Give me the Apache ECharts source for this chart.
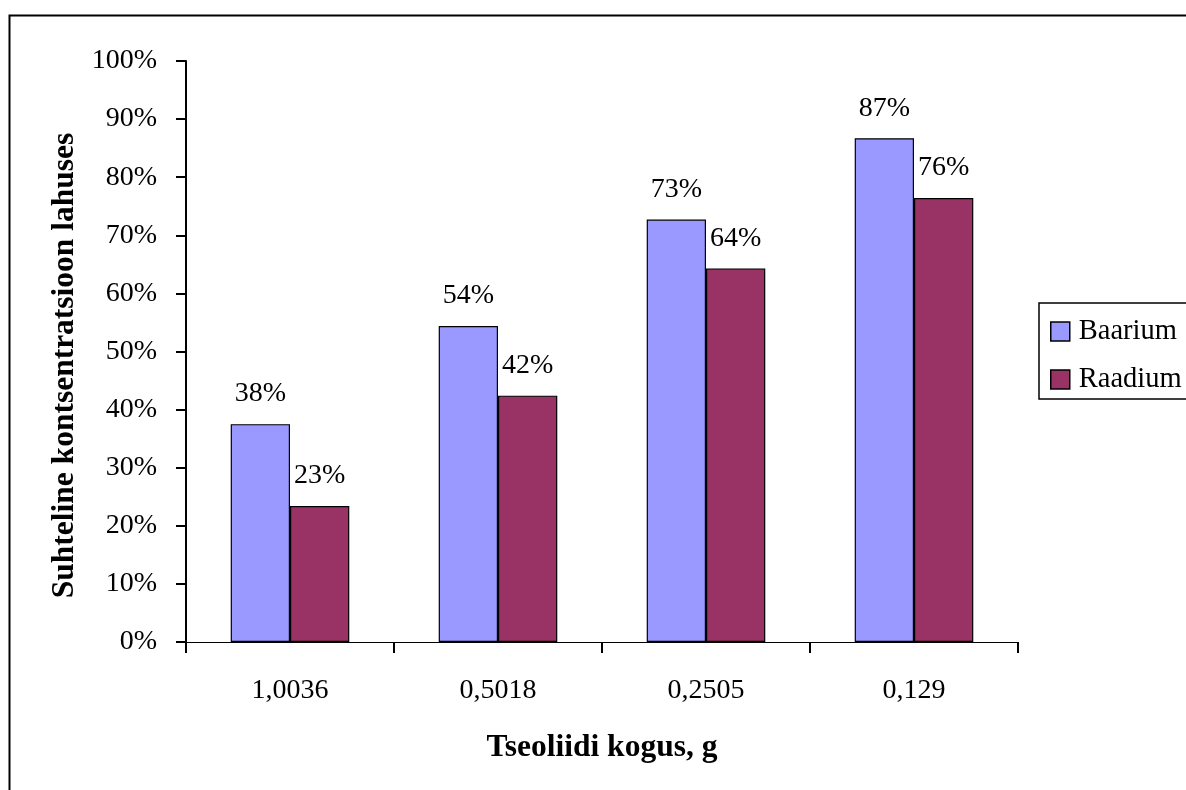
<!DOCTYPE html>
<html>
<head>
<meta charset="utf-8">
<script src="https://cdn.jsdelivr.net/npm/echarts@6/dist/echarts.min.js"></script>
<style>
html,body{margin:0;padding:0;background:#fff;}
#chart{width:1186px;height:790px;}
</style>
</head>
<body>
<div id="chart"></div>
<script>
var categories = ['1,0036', '0,5018', '0,2505', '0,129'];
var baarium = [37.5, 54.4, 72.7, 86.7];
var raadium = [23.4, 42.4, 64.3, 76.4];
var yTicks = [0, 10, 20, 30, 40, 50, 60, 70, 80, 90, 100];
var seriesNames = ['Baarium', 'Raadium'];

var FONT = '"Liberation Serif", "Times New Roman", serif';
var chart = echarts.init(document.getElementById('chart'), null, {renderer: 'canvas'});

function labelOpt() {
  return {
    show: true,
    position: 'top',
    distance: 16,
    fontFamily: FONT,
    fontSize: 28,
    color: '#000',
    formatter: function (p) { return Math.round(p.value) + '%'; }
  };
}

chart.setOption({
  backgroundColor: '#fff',
  animation: false,
  graphic: [{
    type: 'rect',
    left: 7, top: 13,
    shape: {width: 1220, height: 820},
    style: {fill: 'none', stroke: '#000', lineWidth: 2},
    silent: true
  }],
  grid: {left: 186, top: 61, right: 168, bottom: 148},
  legend: {
    orient: 'vertical',
    left: 1039, top: 303,
    data: seriesNames,
    icon: 'rect',
    itemWidth: 19, itemHeight: 19,
    itemGap: 19,
    padding: [14, 30, 5, 11],
    borderColor: '#000', borderWidth: 1.5,
    itemStyle: {borderWidth: 1.5, borderColor: '#000'},
    textStyle: {fontFamily: FONT, fontSize: 28.5, color: '#000', padding: [0, 0, 0, 4]}
  },
  xAxis: {
    type: 'category',
    data: categories,
    name: 'Tseoliidi kogus, g',
    nameLocation: 'middle',
    nameGap: 90,
    nameTextStyle: {fontFamily: FONT, fontSize: 31.5, fontWeight: 'bold', color: '#000'},
    axisLine: {lineStyle: {color: '#000', width: 1}},
    axisTick: {show: true, alignWithLabel: false, length: 11, lineStyle: {color: '#000', width: 2}},
    axisLabel: {fontFamily: FONT, fontSize: 28, color: '#000', margin: 35}
  },
  yAxis: {
    type: 'value',
    min: 0, max: 100, interval: 10,
    name: 'Suhteline kontsentratsioon lahuses',
    nameLocation: 'middle',
    nameGap: 105,
    nameTextStyle: {fontFamily: FONT, fontSize: 31.5, fontWeight: 'bold', color: '#000', padding: [0, 28, 0, 0]},
    axisLine: {show: true, lineStyle: {color: '#000', width: 2}},
    axisTick: {show: true, inside: false, length: 10, lineStyle: {color: '#000', width: 2}},
    axisLabel: {fontFamily: FONT, fontSize: 28, color: '#000', margin: 29,
      formatter: function (v) { return yTicks.indexOf(v) >= 0 ? v + '%' : ''; }},
    splitLine: {show: false}
  },
  series: [{
    name: seriesNames[0],
    type: 'bar',
    data: baarium,
    barGap: '0%',
    barCategoryGap: '43%',
    itemStyle: {color: '#9999FF', borderColor: '#000', borderWidth: 1.2},
    label: labelOpt()
  }, {
    name: seriesNames[1],
    type: 'bar',
    data: raadium,
    barGap: '0%',
    barCategoryGap: '43%',
    itemStyle: {color: '#993366', borderColor: '#000', borderWidth: 1.2},
    label: labelOpt()
  }]
});
</script>
</body>
</html>
